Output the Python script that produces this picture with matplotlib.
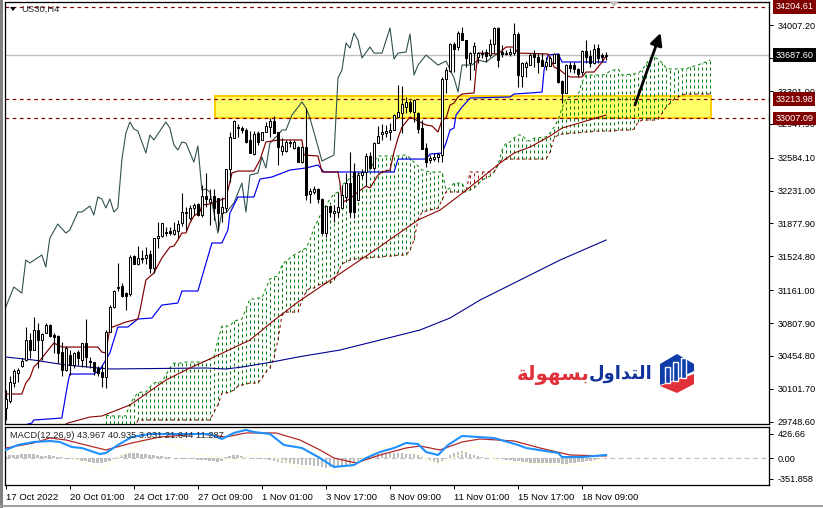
import matplotlib
matplotlib.use('Agg')
import matplotlib.pyplot as plt
import numpy as np
from matplotlib.patches import Polygon, Rectangle

plt.rcParams['font.family'] = ['Liberation Sans', 'DejaVu Sans']

# US30 H4 candles
opens = [29895, 29970, 30163, 30271, 30346, 30410, 30625, 30518, 30733, 30625,
         30701, 30787, 30679, 30668, 30496, 30303, 30464, 30357, 30496, 30410,
         30593, 30400, 30389, 30325, 30282, 30228, 30711, 30980, 31184, 31206,
         31130, 31120, 31528, 31442, 31496, 31507, 31550, 31399, 31721, 31743,
         31775, 31797, 31764, 31797, 31883, 31990, 31936, 32044, 32087, 31969,
         32173, 32108, 32173, 32151, 31990, 32044, 32463, 32796, 32914, 32903,
         32882, 32775, 32624, 32850, 32775, 32861, 32914, 32979, 32861, 32656,
         32656, 32753, 32689, 32699, 32538, 32699, 32194, 32216, 32248, 32141,
         31775, 32065, 31990, 32001, 32044, 32162, 32312, 32431, 32130, 32398,
         32431, 32603, 32474, 32742, 32839, 32850, 32861, 32882, 33022, 33065,
         33129, 33183, 33075, 33065, 32903, 32689, 32560, 32570, 32592, 32613,
         33430, 33516, 33806, 33774, 33924, 33849, 33602, 33709, 33666, 33709,
         33720, 33688, 33806, 33978, 33720, 33709, 33699, 33709, 33914, 33462,
         33559, 33580, 33699, 33666, 33634, 33570, 33570, 33602, 33699, 33409,
         33280, 33580, 33580, 33538, 33505, 33731, 33677, 33602, 33763, 33688,
         33677]
highs = [30088, 30238, 30314, 30325, 30432, 30765, 30701, 30872, 30808, 30701,
         30808, 30797, 30701, 30679, 30604, 30561, 30518, 30496, 30518, 30593,
         30851, 30443, 30389, 30346, 30357, 30733, 31001, 31163, 31453, 31238,
         31141, 31539, 31539, 31635, 31592, 31625, 31592, 31721, 31893, 31883,
         31840, 31840, 31893, 31915, 32205, 32055, 32076, 32098, 32098, 32291,
         32420, 32248, 32248, 32151, 32162, 32463, 32861, 32989, 32947, 32925,
         32903, 32871, 32871, 32871, 32861, 32968, 33011, 33032, 32861, 32796,
         32775, 32775, 32775, 32710, 32710, 33118, 32259, 32280, 32259, 32151,
         32065, 32065, 32076, 32216, 32291, 32420, 32646, 32527, 32431, 32463,
         32635, 32646, 32753, 32925, 32947, 32936, 32957, 33054, 33366, 33355,
         33237, 33204, 33215, 33075, 32989, 32742, 32613, 32635, 32635, 33452,
         33559, 33817, 33828, 33946, 33989, 33849, 33720, 33828, 33720, 33742,
         33752, 33860, 33989, 33989, 33795, 33742, 33763, 34032, 33935, 33613,
         33623, 33709, 33742, 33709, 33709, 33666, 33677, 33709, 33709, 33419,
         33591, 33613, 33613, 33548, 33742, 33849, 33742, 33806, 33806, 33709,
         33720]
lows = [29766, 29948, 30120, 30174, 30335, 30400, 30432, 30518, 30325, 30410,
        30701, 30658, 30486, 30378, 30238, 30292, 30249, 30325, 30357, 30335,
        30335, 30325, 30249, 30238, 30120, 30109, 30711, 30969, 31152, 31087,
        30948, 31098, 31442, 31431, 31453, 31442, 31345, 31345, 31614, 31732,
        31743, 31754, 31754, 31721, 31850, 31807, 31915, 31969, 31958, 31947,
        32055, 31861, 31915, 31807, 31893, 32001, 32323, 32796, 32807, 32850,
        32742, 32635, 32613, 32721, 32775, 32861, 32807, 32850, 32506, 32613,
        32646, 32699, 32678, 32538, 32527, 32130, 32098, 32194, 32098, 31764,
        31732, 31947, 31893, 31947, 32044, 32108, 31947, 31936, 32130, 32366,
        32291, 32474, 32452, 32742, 32775, 32807, 32775, 32882, 33022, 32850,
        33065, 33065, 32968, 32850, 32678, 32485, 32527, 32549, 32538, 32538,
        33280, 33505, 33505, 33742, 33849, 33559, 33419, 33527, 33602, 33656,
        33613, 33666, 33709, 33559, 33666, 33688, 33677, 33688, 33344, 33344,
        33452, 33580, 33559, 33495, 33570, 33527, 33570, 33602, 33387, 33172,
        33280, 33505, 33495, 33452, 33473, 33602, 33559, 33591, 33602, 33613,
        33634]
closes = [29991, 30174, 30292, 30303, 30400, 30625, 30518, 30733, 30625, 30690,
          30787, 30668, 30658, 30486, 30303, 30539, 30357, 30486, 30432, 30593,
          30443, 30389, 30292, 30271, 30228, 30711, 30980, 31152, 31195, 31098,
          31098, 31517, 31442, 31507, 31507, 31539, 31399, 31721, 31743, 31883,
          31786, 31775, 31807, 31872, 32001, 32001, 32044, 32076, 31969, 32173,
          32141, 32141, 32044, 31990, 32055, 32463, 32807, 32979, 32903, 32882,
          32753, 32635, 32839, 32753, 32861, 32925, 32979, 32850, 32699, 32710,
          32753, 32742, 32753, 32538, 32699, 32184, 32226, 32248, 32141, 31775,
          32065, 32001, 32012, 32055, 32184, 32312, 32001, 32001, 32398, 32431,
          32603, 32474, 32742, 32818, 32861, 32871, 32882, 33043, 33075, 33161,
          33183, 33086, 33204, 32893, 32678, 32538, 32581, 32592, 32624, 33430,
          33527, 33806, 33752, 33924, 33849, 33656, 33709, 33785, 33709, 33699,
          33677, 33806, 33978, 33634, 33699, 33699, 33720, 33914, 33473, 33602,
          33602, 33688, 33666, 33613, 33570, 33613, 33656, 33699, 33398, 33280,
          33580, 33548, 33538, 33484, 33731, 33666, 33602, 33752, 33656, 33666,
          33688]

# ichimoku cloud, one value per bar from bar 25 (runs 26 bars past the last candle)
span_a = [29819, 29809, 29809, 29809, 29809, 29809, 29938, 30002, 30056, 30067,
          30067, 30120, 30163, 30174, 30174, 30249, 30325, 30378, 30378, 30378,
          30389, 30389, 30389, 30389, 30389, 30400, 30421, 30443, 30625, 30776,
          30776, 30776, 30829, 30840, 30851, 30958, 31066, 31066, 31077, 31077,
          31184, 31281, 31302, 31313, 31431, 31474, 31507, 31539, 31560, 31592,
          31614, 31700, 31829, 31915, 32001, 32076, 32141, 32194, 32216, 32291,
          32323, 32366, 32388, 32409, 32420, 32431, 32452, 32538, 32603, 32603,
          32603, 32603, 32603, 32603, 32613, 32613, 32581, 32538, 32495, 32452,
          32441, 32431, 32431, 32431, 32431, 32237, 32259, 32312, 32312, 32312,
          32216, 32237, 32259, 32302, 32345, 32366, 32388, 32431, 32506, 32667,
          32742, 32753, 32796, 32828, 32828, 32775, 32764, 32796, 32796, 32807,
          32807, 32850, 32914, 32989, 33118, 33226, 33237, 33237, 33258, 33398,
          33473, 33473, 33473, 33473, 33473, 33484, 33516, 33527, 33538, 33473,
          33473, 33484, 33484, 33495, 33527, 33591, 33656, 33666, 33645, 33602,
          33548, 33538, 33538, 33538, 33538, 33538, 33559, 33570, 33580, 33602,
          33613, 33634]
span_b = [29658, 29658, 29658, 29658, 29658, 29658, 29658, 29658, 29766, 29766,
          29766, 29766, 29766, 29766, 29766, 29766, 29766, 29766, 29766, 29766,
          29766, 29766, 29766, 29766, 29766, 29766, 29766, 29851, 29927, 30056,
          30056, 30067, 30088, 30131, 30142, 30152, 30163, 30163, 30163, 30217,
          30282, 30325, 30432, 30625, 30894, 30926, 30926, 30926, 30926, 31055,
          31141, 31184, 31184, 31216, 31227, 31238, 31238, 31270, 31356, 31442,
          31464, 31485, 31496, 31496, 31507, 31507, 31507, 31517, 31517, 31517,
          31528, 31528, 31528, 31539, 31539, 31539, 31592, 31700, 31915, 32001,
          32012, 32022, 32033, 32044, 32130, 32216, 32216, 32216, 32216, 32216,
          32216, 32431, 32431, 32431, 32431, 32431, 32431, 32431, 32506, 32570,
          32570, 32570, 32570, 32570, 32570, 32570, 32570, 32570, 32570, 32570,
          32570, 32646, 32796, 32828, 32839, 32839, 32850, 32850, 32850, 32861,
          32861, 32861, 32871, 32871, 32871, 32871, 32871, 32871, 32882, 32882,
          32882, 32882, 32893, 32968, 32989, 32989, 32989, 32989, 33000, 33065,
          33129, 33172, 33215, 33237, 33258, 33269, 33269, 33269, 33269, 33269,
          33269, 33269]

tenkan_x = [0, 4, 5, 6, 7, 8, 12, 14, 18, 23, 24, 25, 26, 30, 33, 33.5, 35, 37, 39, 41, 42, 43, 44, 45,
            46, 47, 48.5, 49, 51, 55, 56, 56.5, 58, 62, 63.5, 65, 68, 74, 74.5, 78, 79, 83, 83.5, 84,
            85.5, 88, 90, 91, 93, 94, 96, 97, 98, 99, 101, 103.5, 105, 106.5, 108, 109, 110, 111, 112,
            113, 114, 117, 117.5, 118, 123, 125, 127, 128, 135.5, 137, 138.5, 140, 141, 144, 145, 147,
            149, 150]
tenkan_y = [30045, 30045, 30163, 30217, 30335, 30378, 30593, 30550, 30550, 30550, 30496, 30486, 30754,
            30819, 30851, 30937, 31270, 31345, 31507, 31625, 31635, 31700, 31775, 31775, 31883, 31958,
            32001, 32076, 32087, 32151, 32323, 32420, 32441, 32441, 32560, 32753, 32775, 32775, 32613,
            32603, 32431, 32431, 32312, 32108, 32130, 32216, 32280, 32259, 32398, 32431, 32452, 32646,
            32796, 32914, 33022, 32968, 32936, 32925, 32861, 32989, 33011, 33151, 33172, 33237, 33269,
            33280, 33527, 33709, 33699, 33774, 33774, 33709, 33699, 33559, 33527, 33473, 33452, 33452,
            33505, 33505, 33613, 33677]
kijun_x = [0, 6.5, 7, 14, 15.5, 16, 22, 23.5, 26, 28, 30.5, 33, 36.5, 39, 43, 44, 48, 51.5, 54, 55.5, 56,
           58, 62, 63.5, 66.5, 71, 75, 78, 79.5, 97, 98, 105, 106, 109, 110, 111, 112, 112.5, 114, 116,
           126, 127, 131, 134, 134.5, 135.5, 138, 139, 150]
kijun_y = [29658, 29733, 29766, 29787, 30163, 30260, 30260, 30303, 30486, 30765, 30765, 30851, 30862,
           31001, 31023, 31152, 31152, 31668, 31668, 31807, 31990, 32162, 32162, 32355, 32377, 32452,
           32474, 32506, 32431, 32431, 32570, 32570, 32624, 32635, 32742, 32882, 32904, 33043, 33129,
           33226, 33237, 33269, 33280, 33290, 33527, 33688, 33699, 33613, 33613]
chikou_x = [0, 2, 3, 4, 5, 6, 9, 10, 11, 13, 15, 16, 18, 19, 21, 22, 23, 24, 25, 26, 27, 28, 29, 30, 31,
            32, 33, 35, 36, 37, 40, 41, 42, 43, 44, 45, 47, 48, 49, 50, 51, 53, 54, 55, 57, 59, 60, 61,
            63, 64, 65, 66, 68, 69, 70, 71.5, 74, 75, 76, 79, 82, 83, 84, 85, 86, 87, 88, 89, 91, 92,
            94, 96, 97, 98, 100, 101, 102, 103, 105, 108, 110, 112, 113, 114, 116.5, 118, 120, 123]
chikou_y = [30980, 31195, 31163, 31130, 31485, 31453, 31539, 31410, 31721, 31872, 31775, 31807, 32001,
            32001, 32065, 31969, 32162, 32141, 32044, 32141, 32001, 32044, 32560, 32850, 32968, 32893,
            32871, 32635, 32828, 32775, 32968, 32903, 32721, 32667, 32753, 32742, 32538, 32710, 32237,
            32248, 32216, 31775, 32001, 31990, 32098, 32312, 32001, 32398, 32420, 32592, 32474, 32742,
            32828, 32882, 32882, 33043, 33183, 33118, 33011, 32549, 32613, 33441, 33527, 33817, 33763,
            33924, 33849, 33656, 33774, 33709, 33709, 33978, 33645, 33709, 33720, 33914, 33473, 33580,
            33688, 33580, 33623, 33441, 33290, 33580, 33580, 33634, 33613, 33709]
ma_red_x = [14, 15.5, 21, 24, 31, 40, 46, 51.5, 61, 66.5, 73, 93, 96.5, 103, 108.5, 113.5, 123.5, 127,
            131, 136, 139, 150]
ma_red_y = [29700, 29733, 29798, 29809, 29927, 30195, 30325, 30432, 30625, 30819, 31034, 31614, 31721,
            31915, 32022, 32184, 32527, 32635, 32699, 32818, 32903, 33043]
ma_blue_x = [0, 7, 15, 26, 50, 55, 59, 66.5, 73, 83.5, 93.5, 103.5, 111, 118.5, 128.5, 138.5, 150]
ma_blue_y = [30443, 30410, 30357, 30314, 30325, 30314, 30335, 30389, 30443, 30518, 30625, 30733, 30862,
             31055, 31270, 31485, 31700]

# MACD pane
macd_x = [0, 3, 7, 11, 13.5, 16.5, 19, 23.5, 25, 28, 31.5, 36, 41.5, 51, 54, 57, 60, 62, 66, 69.5, 74,
          78.5, 82, 87, 90, 93.5, 97, 100, 103, 105, 108, 110.5, 114, 118, 122, 128, 130, 138, 139, 144, 150]
macd_y = [144, 230, 282, 299, 282, 195, 178, 74, 92, 230, 368, 420, 420, 420, 334, 438, 490, 455, 420,
          230, 178, 5, -150, -116, 5, 109, 178, 265, 247, 109, 57, 230, 386, 368, 351, 230, 178, 92, 22,
          22, 57]
signal_x = [0, 7, 11, 15, 19, 25, 31.5, 38.5, 48.5, 55, 60, 67.5, 73.5, 78.5, 82, 87.5, 93.5, 100, 103.5,
            108.5, 114, 118.5, 127, 133.5, 141, 150]
signal_y = [178, 265, 351, 317, 247, 144, 265, 368, 420, 368, 438, 438, 317, 144, 5, -81, 57, 178, 213,
            144, 282, 334, 299, 178, 57, 40]
pale_x = [0, 11, 23.5, 36, 48.5, 57, 64, 73.5, 82, 97, 108.5, 118, 123.5, 145, 150]
pale_y = [109, 195, -202, 368, 57, -29, 92, -150, -254, 265, -116, 230, -81, -116, 22]
macd_hist = [35, 52, 52, 52, 69, 69, 69, 69, 52, 35, 35, 52, 35, 17, 17, 0, -17, -17, -35, -52, -52, -69,
             -87, -87, -87, -69, -52, -17, 17, 52, 69, 87, 87, 87, 69, 69, 52, 52, 35, 35, 17, 17, 0, 0,
             -17, -17, -17, -17, -35, -35, -35, -52, -52, -69, -52, 17, 35, 52, 52, 35, 17, 0, -17, -17,
             -17, -17, -35, -52, -69, -87, -87, -104, -104, -104, -121, -121, -121, -138, -138, -156,
             -173, -156, -138, -138, -138, -121, -104, -69, -52, -17, 17, 35, 52, 69, 87, 87, 87, 87, 87,
             87, 69, 69, 69, 52, 17, -17, -52, -69, -87, -52, 0, 52, 87, 104, 121, 104, 69, 52, 35, 17,
             0, 0, -17, -17, -17, -35, -35, -52, -52, -69, -69, -87, -87, -87, -87, -87, -87, -87, -87,
             -104, -104, -87, -87, -69, -69, -52, -52, -35, -17, -17, 0]

# scales and labels
price_ticks = [34007.20, 33654.10, 33301.00, 32947.90, 32584.10, 32231.00, 31877.90, 31524.80, 31161.00,
               30807.90, 30454.80, 30101.70, 29748.60]
level_prices = [34204.61, 33213.98, 33007.09]
last_price = 33687.60
date_bars = [0, 16, 32, 48, 64, 80, 96, 112, 128, 144]
date_labels = ['17 Oct 2022', '20 Oct 01:00', '24 Oct 17:00', '27 Oct 09:00', '1 Nov 01:00',
               '3 Nov 17:00', '8 Nov 09:00', '11 Nov 01:00', '15 Nov 17:00', '18 Nov 09:00']

W, H = 823, 508
PX = 0.72  # one pixel in points at 100 dpi
fig = plt.figure(figsize=(W / 100, H / 100), dpi=100, facecolor='white')

# main pane: x 5..769, y 1.5..424 in pixels
ax = fig.add_axes([5 / W, (H - 424) / H, 764 / W, 422.5 / H])
ax.set_xlim(-0.2, 190.7)
ax.set_ylim(29723, 34263)
ax.yaxis.tick_right()
ax.set_yticks(price_ticks)
ax.set_yticklabels(['%.2f' % p for p in price_ticks])
ax.tick_params(axis='y', length=3, width=PX, pad=3, labelsize=6.6)
ax.set_xticks([])
for s in ax.spines.values():
    s.set_linewidth(PX * 1.3)

# yellow zone behind everything
ax.add_patch(Rectangle((52.2, 33007), 124, 33250 - 33007, facecolor='#FFFF66', edgecolor='#FFCC00',
                       linewidth=1.4, zorder=1))

ax.axhline(last_price, color='#C0C0C0', lw=1, zorder=1.5)
for p in level_prices:
    ax.axhline(p, color='#800000', lw=PX * 1.2, ls=(0, (3, 3)), zorder=2)

# cloud, dotted columns
cloud_x = np.arange(25, 25 + len(span_a))
a = np.array(span_a)
b = np.array(span_b)
ax.vlines(cloud_x[a >= b], b[a >= b], a[a >= b], color='#008000', lw=PX, ls=(0, (3, 3)), zorder=2.2)
ax.vlines(cloud_x[a < b], a[a < b], b[a < b], color='#A01010', lw=PX, ls=(0, (3, 3)), zorder=2.2)
ax.plot(cloud_x, a, color='#008000', lw=PX, ls=(0, (3, 3)), zorder=2.2)
ax.plot(cloud_x, b, color='#8B0000', lw=PX, ls=(0, (3, 3)), zorder=2.2)

ax.plot(ma_blue_x, ma_blue_y, color='#00008B', lw=PX * 1.1, zorder=2.5)
ax.plot(ma_red_x, ma_red_y, color='#8B0000', lw=PX * 1.1, zorder=2.5)
ax.plot(chikou_x, chikou_y, color='#2F4F4F', lw=PX * 1.1, zorder=2.5)
ax.plot(kijun_x, kijun_y, color='#0000F0', lw=PX * 1.2, zorder=2.6)
ax.plot(tenkan_x, tenkan_y, color='#800000', lw=PX * 1.2, zorder=2.6)

# candles
bars = np.arange(len(opens))
o = np.array(opens)
c = np.array(closes)
ax.vlines(bars, lows, highs, color='black', lw=PX * 1.1, zorder=3)
ax.bar(bars, np.abs(c - o), bottom=np.minimum(o, c), width=0.55,
       color=['white' if up else 'black' for up in c >= o], edgecolor='black', linewidth=PX, zorder=3.1)

# hand drawn arrow
ax.annotate('', xy=(163.6, 33925), xytext=(157.2, 33151),
            arrowprops=dict(arrowstyle='-|>', color='black', lw=2, mutation_scale=18, shrinkA=0, shrinkB=0),
            zorder=5)

# price flags over the scale
for p in level_prices:
    ax.text(1.0085, p, '%.2f' % p, transform=ax.get_yaxis_transform(), color='white', fontsize=6.6,
            va='center', ha='left', clip_on=False, zorder=10,
            bbox=dict(facecolor='#800000', edgecolor='none', pad=1.6))
ax.text(1.0085, last_price, '%.2f' % last_price, transform=ax.get_yaxis_transform(), color='white',
        fontsize=6.6, va='center', ha='left', clip_on=False, zorder=10,
        bbox=dict(facecolor='black', edgecolor='none', pad=1.6))

# MACD pane: x 5..769, y 427..484.5
ax2 = fig.add_axes([5 / W, (H - 484.5) / H, 764 / W, 57.5 / H])
ax2.set_xlim(-0.2, 190.7)
ax2.set_ylim(-453, 541)
ax2.yaxis.tick_right()
ax2.set_yticks([426.66, 0, -351.858])
ax2.set_yticklabels(['426.66', '0.00', '-351.858'])
ax2.tick_params(axis='y', length=3, width=PX, pad=3, labelsize=6.6)
ax2.set_xticks(date_bars)
ax2.set_xticklabels(date_labels, ha='left')
ax2.tick_params(axis='x', length=3, width=PX, pad=3, labelsize=6.8)
for s in ax2.spines.values():
    s.set_linewidth(PX * 1.3)
ax2.axhline(0, color='#C0C0C0', lw=PX * 1.2, ls=(0, (4, 3)), zorder=1)
ax2.bar(np.arange(len(macd_hist)), macd_hist, width=0.72, color='#BEBEBE', zorder=2)
ax2.plot(pale_x, pale_y, color='#FFFFD8', lw=PX, zorder=2.5)
ax2.plot(signal_x, signal_y, color='#B22222', lw=PX * 1.2, zorder=3)
ax2.plot(macd_x, macd_y, color='#1E90FF', lw=1.5, zorder=3.5)
ax2.text(0.0065, 0.86, 'MACD(12,26,9) 43.967 40.935 3.031 21.644 11.287', transform=ax2.transAxes,
         fontsize=6.7, va='center', ha='left', color='#222222', zorder=6)

# window frame, symbol caption and logo sit on a pixel overlay
top = fig.add_axes([0, 0, 1, 1], zorder=20)
top.set_xlim(0, W)
top.set_ylim(H, 0)
top.axis('off')
top.patch.set_visible(False)
top.add_patch(Rectangle((0, 0), 3, H, facecolor='#808080', edgecolor='none'))
top.add_patch(Rectangle((0, 505), W, 1.5, facecolor='#A0A0A0', edgecolor='none'))
top.add_patch(Polygon([(10, 7), (16, 7), (13, 11)], facecolor='black', edgecolor='none'))
top.add_patch(Polygon([(609, 1.5), (619, 1.5), (614, 6.5)], facecolor='#C0C0C0', edgecolor='none'))
top.text(21, 9.5, 'US30,H4', fontsize=6.8, va='center', ha='left', color='#303030')

top.text(653, 374, '\ufedd\ufeed\ufe8d\ufeaa\ufe98\ufedf\ufe8d', fontsize=13, fontweight='bold',
         family='DejaVu Sans', color='#12349A', va='center', ha='right')
top.text(590, 375, '\ufe94\ufedf\ufeee\ufeec\ufeb4\ufe91', fontsize=14.2, fontweight='bold',
         family='DejaVu Sans', color='#E0303A', va='center', ha='right')
top.add_patch(Polygon([(660, 364), (677, 354), (694, 364), (694, 371), (677, 379), (660, 385)],
                      facecolor='#0F3CA8', edgecolor='none'))
top.add_patch(Polygon([(660, 386), (694, 374), (694, 384), (677, 393)], facecolor='#E2303A', edgecolor='none'))
for bx, btop, bbot in [(665, 367, 383), (673, 362, 381), (681, 358, 378)]:
    top.add_patch(Rectangle((bx, btop), 5, bbot - btop, facecolor='#0F3CA8', edgecolor='white', linewidth=1))

fig.savefig('out.png', dpi=100)
